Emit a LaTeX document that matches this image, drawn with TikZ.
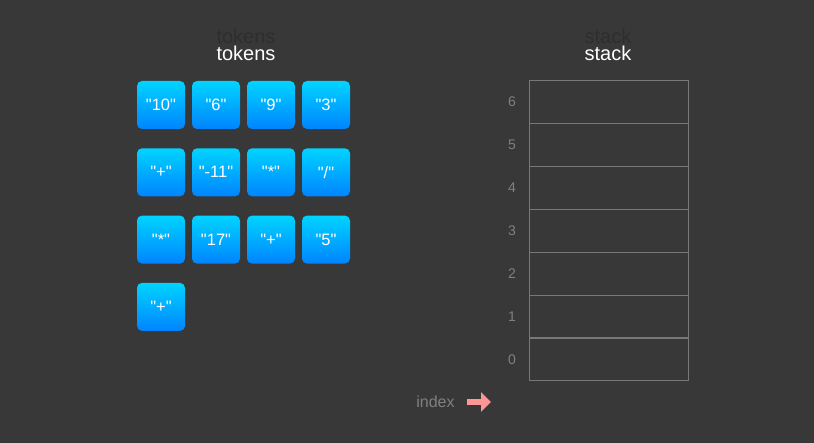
\documentclass[tikz,border=0pt]{standalone}
\usepackage{fontspec}
\setmainfont{Liberation Sans}
\newfontfamily\plainsans{Liberation Sans}
\usetikzlibrary{arrows.meta,positioning}
\definecolor{bgcol}{RGB}{56,56,56}
\definecolor{ghostcol}{RGB}{46,46,46}
\definecolor{tiletop}{RGB}{0,212,255}
\definecolor{tilebot}{RGB}{0,132,255}
\definecolor{cellline}{RGB}{120,120,120}
\definecolor{idxcol}{RGB}{128,128,128}
\definecolor{arrowcol}{RGB}{255,150,150}
\tikzset{
  tile/.style={rounded corners=5pt, minimum width=48pt, minimum height=48pt, inner sep=0pt,
    top color=tiletop, bottom color=tilebot, text=white, font=\plainsans\fontsize{16.5}{18}\selectfont},
  title/.style={font=\fontsize{20}{22}\selectfont},
  cell/.style={draw=cellline, line width=1pt, minimum width=159pt, minimum height=43pt, inner sep=0pt},
  idx/.style={text=idxcol, font=\fontsize{14}{16}\selectfont}
}
\begin{document}
\begin{tikzpicture}[x=1pt,y=-1pt]
\fill[bgcol] (0,0) rectangle (814,443);
\useasboundingbox (0,0) rectangle (814,443);
% titles
\node[title, text=ghostcol] (tokensghost) at (246,36) {tokens};
\node[title, text=white] (tokens) at (246,53) {tokens};
\node[title, text=ghostcol] (stackghost) at (608,36) {stack};
\node[title, text=white] (stack) at (608,53) {stack};
% token tiles
\foreach \lab [count=\i from 0] in {"10","6","9","3","+","-11","*","/","*","17","+","5","+"} {
  \pgfmathtruncatemacro{\col}{mod(\i,4)}
  \pgfmathtruncatemacro{\row}{div(\i,4)}
  \node[tile] (tok\i) at (161+55*\col, 105+67.3*\row) {\lab};
}
% stack cells
\foreach \k in {0,...,6} {
  \node[cell] (cell\k) at (608.5, 359.5-42.9*\k) {};
  \node[idx, left=9pt of cell\k] (num\k) {\k};
}
% index pointer
\node[text=idxcol, font=\fontsize{16}{18}\selectfont] (index) at (435.5,402) {index};
\coordinate[right=9pt of index] (ptrstart);
\coordinate (ptrend) at (491,402);
\draw[arrowcol, line width=6pt, -{Triangle[length=10pt,width=19pt]}] (ptrstart) -- (ptrend);
\end{tikzpicture}
\end{document}
